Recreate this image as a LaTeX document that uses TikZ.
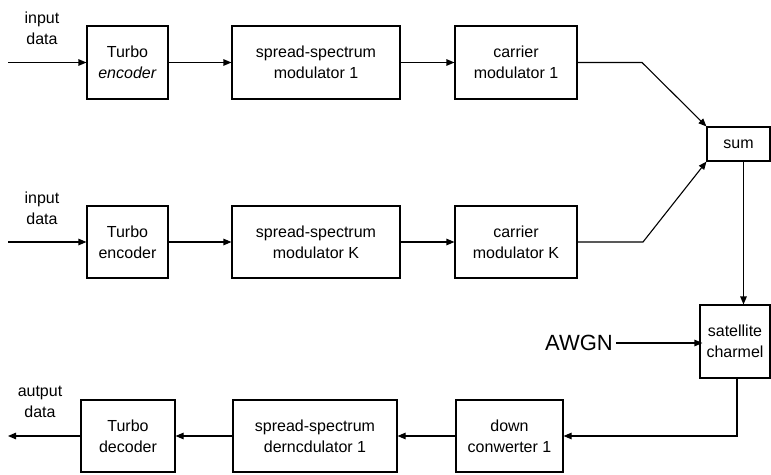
\documentclass[tikz,border=0pt]{standalone}
\usepackage{fontspec}
\setmainfont{Liberation Sans}
\usetikzlibrary{arrows.meta}
\begin{document}
\begin{tikzpicture}[x=1pt,y=-1pt,
  blk/.style={draw, line width=1.1pt, align=center, inner sep=0pt,
    font=\fontsize{16}{21}\selectfont},
  lbl/.style={align=center, inner sep=0pt, font=\fontsize{16}{21}\selectfont},
  arr/.style={draw, line width=1.1pt, -{Triangle[length=8pt,width=6.5pt]}},
  wire/.style={draw, line width=1.1pt}]
\useasboundingbox (0,0) rectangle (771,474);

% transmitter branch 1
\node[blk, minimum width=81pt, minimum height=73pt] (enc1) at (127.5,62.5) {Turbo\\\textit{encoder}};
\node[blk, minimum width=168pt, minimum height=73pt] (ssm1) at (316,62.5) {spread-spectrum\\modulator 1};
\node[blk, minimum width=122pt, minimum height=73pt] (cm1) at (516,62.5) {carrier\\modulator 1};
\node[lbl] (in1) at (42,28) {input\\data};
\coordinate (src1) at (8,62.5);
\coordinate (k1) at (642,62.5);

% transmitter branch K
\node[blk, minimum width=81pt, minimum height=72pt] (encK) at (127.5,242) {Turbo\\encoder};
\node[blk, minimum width=168pt, minimum height=72pt] (ssmK) at (316,242) {spread-spectrum\\modulator K};
\node[blk, minimum width=122pt, minimum height=72pt] (cmK) at (516,242) {carrier\\modulator K};
\node[lbl] (inK) at (42,208) {input\\data};
\coordinate (srcK) at (8,242);
\coordinate (kK) at (643,242);

% summation and channel
\node[blk, minimum width=63pt, minimum height=34pt] (sum) at (738.5,144) {sum};
\node[blk, minimum width=70pt, minimum height=73pt] (sat) at (735,341.5) {satellite\\charmel};
\node[inner sep=0pt, font=\fontsize{22}{24}\selectfont] (awgn) at (579,343) {AWGN};

% receiver
\node[blk, minimum width=107pt, minimum height=72pt] (dc) at (509.5,436) {down\\conwerter 1};
\node[blk, minimum width=164pt, minimum height=72pt] (ssd) at (315,436) {spread-spectrum\\derncdulator 1};
\node[blk, minimum width=94pt, minimum height=72pt] (dec) at (128,436) {Turbo\\decoder};
\node[lbl] (outl) at (40,402) {autput\\data};
\coordinate (sink) at (8,436);

% connectors
\draw[arr] (src1) -- (enc1.west);
\draw[arr] (enc1) -- (ssm1);
\draw[arr] (ssm1) -- (cm1);
\draw[arr] (cm1.east) -- (k1) -- (sum.north west);

\draw[arr] (srcK) -- (encK.west);
\draw[arr] (encK) -- (ssmK);
\draw[arr] (ssmK) -- (cmK);
\draw[arr] (cmK.east) -- (kK) -- (sum.south west);

\draw[arr] ([xshift=5pt]sum.south) -- ([xshift=5pt]sum.south |- sat.north);
\draw[arr] ([xshift=3pt]awgn.east) -- ([xshift=3pt]awgn.east -| sat.west);

\draw[arr] ([xshift=2pt]sat.south) |- (dc.east);
\draw[arr] (dc) -- (ssd);
\draw[arr] (ssd) -- (dec);
\draw[arr] (dec.west) -- (sink);
\end{tikzpicture}
\end{document}
